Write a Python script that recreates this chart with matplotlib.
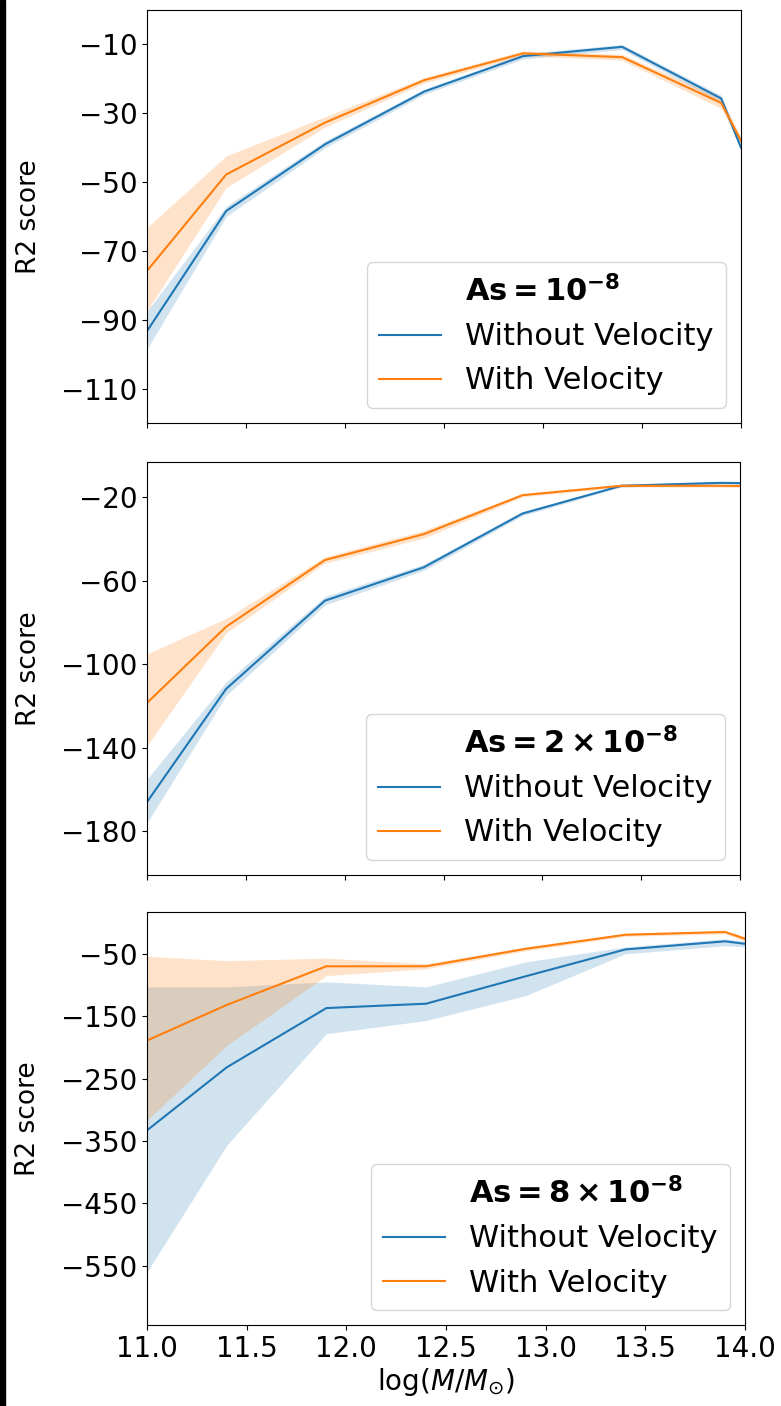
import matplotlib
matplotlib.use('Agg')
import matplotlib.pyplot as plt
from matplotlib.patches import Rectangle

# halo mass bins, log(M/Msun)
mass = [11.0, 11.4, 11.9, 12.4, 12.9, 13.4, 13.9, 14.0]

# As = 1e-8
no_vel_1 = [-93.3, -58.4, -39.0, -23.7, -13.4, -10.7, -25.7, -40.0]
no_vel_1_lo = [-98.5, -60.0, -40.0, -24.5, -14.2, -11.5, -26.8, -41.0]
no_vel_1_hi = [-87.5, -57.0, -38.0, -23.0, -12.7, -10.0, -24.8, -39.0]
vel_1 = [-75.8, -47.8, -32.7, -20.4, -12.6, -13.7, -27.0, -38.0]
vel_1_lo = [-87.4, -51.6, -34.0, -21.2, -13.3, -14.6, -28.6, -39.0]
vel_1_hi = [-63.2, -42.4, -31.0, -19.6, -11.9, -12.9, -25.6, -37.0]

# As = 2e-8
no_vel_2 = [-166.0, -111.8, -69.5, -53.5, -27.7, -14.4, -13.0, -13.1]
no_vel_2_lo = [-176.0, -115.0, -71.5, -55.0, -28.7, -15.0, -13.6, -13.7]
no_vel_2_hi = [-155.0, -108.5, -67.5, -52.0, -26.7, -13.8, -12.4, -12.5]
vel_2 = [-118.5, -82.0, -50.0, -37.6, -18.9, -14.4, -14.4, -14.5]
vel_2_lo = [-139.0, -85.0, -51.5, -39.5, -19.7, -15.0, -15.0, -15.1]
vel_2_hi = [-95.0, -78.0, -48.5, -35.8, -18.1, -13.8, -13.8, -13.9]

# As = 8e-8
no_vel_3 = [-333.0, -232.0, -137.0, -130.0, -86.0, -43.0, -30.0, -34.0]
no_vel_3_lo = [-560.0, -357.0, -178.0, -157.0, -117.0, -50.0, -37.0, -39.0]
no_vel_3_hi = [-103.0, -103.0, -95.0, -103.0, -63.0, -39.0, -26.0, -30.0]
vel_3 = [-189.0, -132.0, -70.0, -70.0, -42.0, -19.5, -15.0, -26.0]
vel_3_lo = [-317.0, -197.0, -85.0, -74.0, -45.0, -22.0, -18.0, -30.0]
vel_3_hi = [-54.0, -61.0, -57.0, -66.0, -39.0, -17.0, -13.0, -22.0]

titles = [r'$\mathbf{As = 10^{-8}}$',
          r'$\mathbf{As = 2 \times 10^{-8}}$',
          r'$\mathbf{As = 8 \times 10^{-8}}$']
yticks = [[-110, -90, -70, -50, -30, -10],
          [-180, -140, -100, -60, -20],
          [-550, -450, -350, -250, -150, -50]]
ylims = [(-120, 0), (-201, -3), (-645, 17)]
xticks = [11.0, 11.5, 12.0, 12.5, 13.0, 13.5, 14.0]

panels = [
    (no_vel_1, no_vel_1_lo, no_vel_1_hi, vel_1, vel_1_lo, vel_1_hi),
    (no_vel_2, no_vel_2_lo, no_vel_2_hi, vel_2, vel_2_lo, vel_2_hi),
    (no_vel_3, no_vel_3_lo, no_vel_3_hi, vel_3, vel_3_lo, vel_3_hi),
]

W, H = 781, 1406
fig = plt.figure(figsize=(W / 100, H / 100), dpi=100)

# axes boxes in pixels: left, right, top, bottom
boxes = [(147, 741, 10, 423), (147, 740, 462, 875), (147, 745, 912, 1325)]

for i, (box, data) in enumerate(zip(boxes, panels)):
    l, r, t, b = box
    ax = fig.add_axes([l / W, (H - b) / H, (r - l) / W, (b - t) / H])
    nv, nv_lo, nv_hi, v, v_lo, v_hi = data

    ax.plot([], [], ' ', label=titles[i])
    ax.plot(mass, nv, color='tab:blue', lw=1.5, label='Without Velocity')
    ax.fill_between(mass, nv_lo, nv_hi, color='tab:blue', alpha=0.2, lw=0)
    ax.plot(mass, v, color='tab:orange', lw=1.5, label='With Velocity')
    ax.fill_between(mass, v_lo, v_hi, color='tab:orange', alpha=0.22, lw=0)

    ax.set_xlim(11.0, 14.0)
    ax.set_ylim(*ylims[i])
    ax.set_xticks(xticks)
    ax.set_yticks(yticks[i])
    ax.tick_params(labelsize=20)
    ax.set_ylabel('R2 score', fontsize=19)
    ax.yaxis.set_label_coords(-0.177, 0.5)
    if i < 2:
        ax.set_xticklabels([])
    else:
        ax.set_xlabel(r'$\log(M/M_{\odot})$', fontsize=20, labelpad=2)
    ax.legend(loc='lower right', fontsize=22)

# dark strip along the left edge of the screenshot
fig.patches.append(Rectangle((0, 0), 5 / W, 1, transform=fig.transFigure,
                             color='black', zorder=10))

fig.savefig('out.png', dpi=100)
